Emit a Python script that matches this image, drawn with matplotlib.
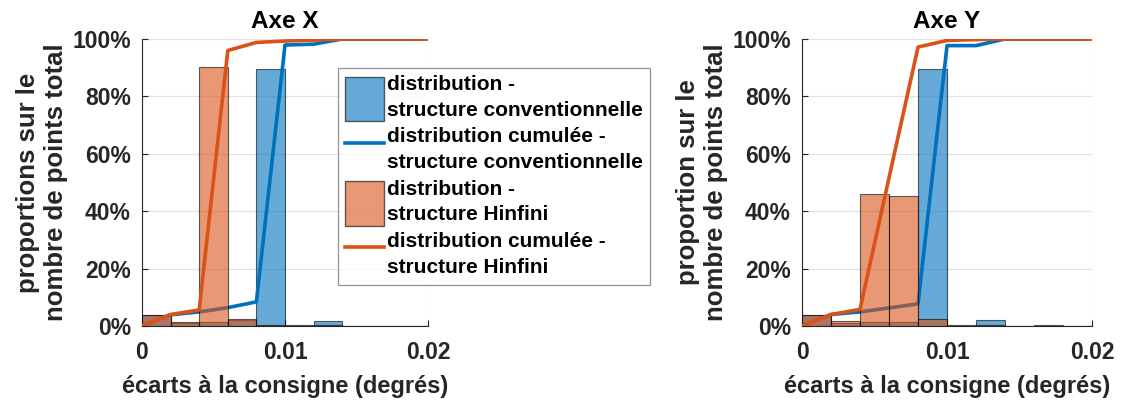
import numpy as np
import matplotlib.pyplot as plt
from matplotlib.ticker import PercentFormatter
from matplotlib.patches import Patch
from matplotlib.lines import Line2D

# histogram bin edges (degrees)
edges = [0, 0.002, 0.004, 0.006, 0.008, 0.01, 0.012, 0.014, 0.016, 0.018, 0.02]

# Axe X - proportions per bin (%)
x_conv = [3.8, 1.0, 1.4, 2.1, 89.4, 0.3, 1.9, 0, 0, 0]
x_hinf = [3.7, 1.4, 90.4, 2.3, 0.5, 0.1, 0.2, 0, 0, 0]
# Axe X - cumulative values at bin edges (%)
x_conv_cum = [0, 3.9, 4.9, 6.4, 8.4, 97.9, 98.2, 100, 100, 100, 100]
x_hinf_cum = [0, 4.0, 5.6, 96.0, 98.8, 99.3, 99.6, 100, 100, 100, 100]

# Axe Y
y_conv = [3.7, 1.2, 1.3, 1.4, 89.7, 0.1, 2.0, 0, 0, 0]
y_hinf = [3.9, 1.7, 45.9, 45.3, 2.3, 0.2, 0.3, 0, 0.2, 0]
y_conv_cum = [0, 4.0, 4.9, 6.3, 7.7, 97.7, 97.7, 100, 100, 100, 100]
y_hinf_cum = [0, 4.0, 5.8, 51.7, 97.2, 99.5, 99.8, 100, 100, 100, 100]

titles = ['Axe X', 'Axe Y']
ylabels = ['proportions sur le\nnombre de points total', 'proportion sur le\nnombre de points total']
blue = '#0072BD'
orange = '#D95319'
txt = '#262626'

plt.rcParams['font.family'] = ['Liberation Sans', 'DejaVu Sans']
plt.rcParams['font.weight'] = 'bold'

fig = plt.figure(figsize=(11.26, 4.03), dpi=100)
ax1 = fig.add_axes([0.1261, 0.1911, 0.254, 0.7121])
ax2 = fig.add_axes([0.7123, 0.1911, 0.2575, 0.7121])

data = [(x_conv, x_hinf, x_conv_cum, x_hinf_cum), (y_conv, y_hinf, y_conv_cum, y_hinf_cum)]
for ax, (conv, hinf, ccum, hcum), title, ylab in zip([ax1, ax2], data, titles, ylabels):
    ax.hist(edges[:-1], bins=edges, weights=conv, color=blue, alpha=0.6,
            edgecolor='black', linewidth=0.8, zorder=2)
    ax.plot(edges, ccum, color=blue, linewidth=2.6, zorder=3)
    ax.hist(edges[:-1], bins=edges, weights=hinf, color=orange, alpha=0.6,
            edgecolor='black', linewidth=0.8, zorder=4)
    ax.plot(edges, hcum, color=orange, linewidth=2.6, zorder=5)
    ax.set_xlim(0, 0.02)
    ax.set_ylim(0, 100)
    ax.set_xticks([0, 0.01, 0.02])
    ax.set_xticklabels(['0', '0.01', '0.02'])
    ax.set_yticks([0, 20, 40, 60, 80, 100])
    ax.yaxis.set_major_formatter(PercentFormatter(decimals=0))
    ax.grid(True, color='#e3e3e3', linewidth=0.9, zorder=0)
    ax.set_axisbelow(True)
    for s in ['top', 'right']:
        ax.spines[s].set_visible(False)
    for s in ['left', 'bottom']:
        ax.spines[s].set_color(txt)
    ax.tick_params(direction='in', labelsize=16.5, colors=txt, length=4)
    ax.tick_params(axis='x', pad=11)
    ax.tick_params(axis='y', pad=8)
    ax.set_title(title, fontsize=17.5, fontweight='bold', color='black', pad=8)
    ax.set_xlabel('écarts à la consigne (degrés)', fontsize=17, fontweight='bold', color=txt, labelpad=8)
    ax.set_ylabel(ylab, fontsize=18.5, fontweight='bold', color=txt, labelpad=3, linespacing=1.2)

handles = [
    Patch(facecolor=blue, alpha=0.6, edgecolor='black'),
    Line2D([0], [0], color=blue, linewidth=2.6),
    Patch(facecolor=orange, alpha=0.6, edgecolor='black'),
    Line2D([0], [0], color=orange, linewidth=2.6),
]
labels = [
    'distribution -\nstructure conventionnelle',
    'distribution cumulée -\nstructure conventionnelle',
    'distribution -\nstructure Hinfini',
    'distribution cumulée -\nstructure Hinfini',
]
leg = fig.legend(handles, labels, loc='upper left', bbox_to_anchor=(338 / 1126, 1 - 68 / 403),
                 fontsize=15, frameon=True, fancybox=False, edgecolor='#7a7a7a',
                 handlelength=1.85, handleheight=2.9, handletextpad=0.15, labelspacing=0.3,
                 borderpad=0.35, borderaxespad=0)
leg.get_frame().set_linewidth(0.9)
for t in leg.get_texts():
    t.set_color('black')
    t.set_linespacing(1.45)

plt.savefig('out.png', dpi=100)
